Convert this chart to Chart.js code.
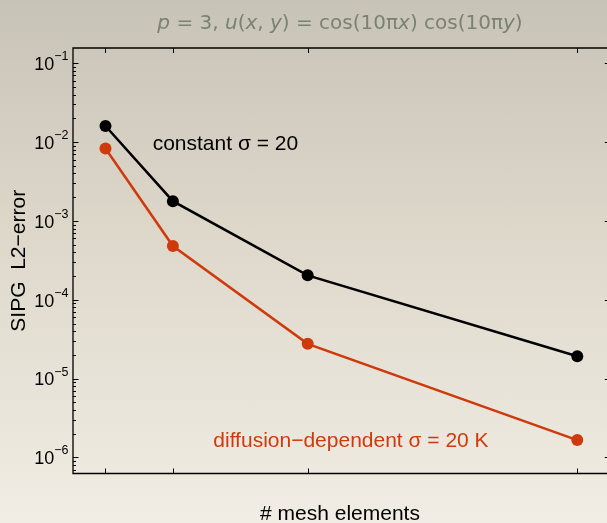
<!DOCTYPE html>
<html>
<head>
<meta charset="utf-8">
<script src="https://cdn.jsdelivr.net/npm/chart.js@4/dist/chart.umd.min.js"></script>
<style>
  html, body { margin: 0; padding: 0; width: 607px; height: 523px; overflow: hidden;
    background: linear-gradient(to bottom, rgb(199,195,182) 0%, rgb(222,216,203) 45%, rgb(241,237,228) 100%); }
  canvas { display: block; }
</style>
</head>
<body>
<canvas id="c" width="607" height="523"></canvas>
<script>
// ---- data ----
const meshLevels = [1, 2, 4, 8];                         // relative # mesh elements (no tick labels shown)
const constantSigmaErr = [1.6e-2, 1.78e-3, 2.04e-4, 1.92e-5];
const diffusionSigmaErr = [8.3e-3, 4.8e-4, 2.76e-5, 1.66e-6];
const yDecadeExponents = [-1, -2, -3, -4, -5, -6];
const seriesLabels = ['constant \u03c3 = 20', 'diffusion\u2212dependent \u03c3 = 20 K'];
const titleParts = [
  ['p', true], [' = 3, ', false], ['u', true], ['(', false], ['x', true], [', ', false],
  ['y', true], [') = cos(10\u03c0', false], ['x', true], [') cos(10\u03c0', false], ['y', true], [')', false]
];
const xAxisTitle = '# mesh elements';
const yAxisTitle = 'SIPG  L2\u2212error';

const BLACK = '#000000';
const RED = '#cf3a0c';
const FONT = '"Liberation Sans", Arial, sans-serif';

const framePlugin = {
  id: 'frame',
  afterDraw(chart) {
    const ctx = chart.ctx;
    const xs = chart.scales.x, ys = chart.scales.y;
    const L = xs.getPixelForValue(xs.min), R = xs.getPixelForValue(8.49);
    const T = ys.getPixelForValue(ys.max), B = ys.getPixelForValue(ys.min);
    ctx.save();
    ctx.strokeStyle = '#000';
    ctx.lineWidth = 1.3;
    ctx.beginPath();
    ctx.moveTo(L, T); ctx.lineTo(R, T); ctx.lineTo(R, B); ctx.lineTo(L, B); ctx.closePath();
    ctx.stroke();
    ctx.lineWidth = 1;
    ctx.beginPath();
    // x ticks (inward, top and bottom)
    meshLevels.forEach(v => {
      const px = Math.round(xs.getPixelForValue(v)) + 0.5;
      ctx.moveTo(px, B); ctx.lineTo(px, B - 5);
      ctx.moveTo(px, T); ctx.lineTo(px, T + 5);
    });
    // y ticks on log scale
    for (let e = -7; e <= 0; e++) {
      for (let m = 1; m <= 9; m++) {
        const v = m * Math.pow(10, e);
        if (v < ys.min || v > ys.max) continue;
        const py = Math.round(ys.getPixelForValue(v)) + 0.5;
        const len = m === 1 ? 5.5 : 3;
        ctx.moveTo(L, py); ctx.lineTo(L + len, py);
        ctx.moveTo(R, py); ctx.lineTo(R - len, py);
      }
    }
    ctx.stroke();

    // y tick labels 10^e
    ctx.fillStyle = '#000';
    ctx.textBaseline = 'alphabetic';
    yDecadeExponents.forEach(e => {
      const py = ys.getPixelForValue(Math.pow(10, e));
      const sup = '\u2212' + Math.abs(e);
      ctx.font = '12.5px ' + FONT;
      const wSup = ctx.measureText(sup).width;
      ctx.font = '18px ' + FONT;
      const wBase = ctx.measureText('10').width;
      const right = L - 4.5;
      ctx.textAlign = 'left';
      ctx.fillText('10', right - wSup - wBase, py + 6.8);
      ctx.font = '12.5px ' + FONT;
      ctx.fillText(sup, right - wSup, py - 3);
    });

    // series annotations
    ctx.font = '21px ' + FONT;
    ctx.textAlign = 'left';
    ctx.textBaseline = 'middle';
    ctx.fillStyle = BLACK;
    ctx.fillText(seriesLabels[0], xs.getPixelForValue(1.70), ys.getPixelForValue(9.35e-3));
    ctx.fillStyle = RED;
    ctx.fillText(seriesLabels[1], xs.getPixelForValue(2.60), ys.getPixelForValue(1.6e-6));

    // axis titles
    ctx.fillStyle = '#000';
    ctx.textBaseline = 'alphabetic';
    ctx.textAlign = 'center';
    ctx.font = '21px ' + FONT;
    ctx.fillText(xAxisTitle, (L + 607) / 2, 520);
    ctx.save();
    ctx.translate(25, (T + B) / 2);
    ctx.rotate(-Math.PI / 2);
    ctx.fillText(yAxisTitle, 0, 0);
    ctx.restore();

    // title
    const tf = (it) => (it ? 'italic ' : '') + '20px "DejaVu Sans", sans-serif';
    let total = 0;
    titleParts.forEach(([s, it]) => { ctx.font = tf(it); total += ctx.measureText(s).width; });
    let x = (L + 607) / 2 - total / 2;
    ctx.fillStyle = '#7b8272';
    ctx.textAlign = 'left';
    titleParts.forEach(([s, it]) => { ctx.font = tf(it); ctx.fillText(s, x, 29); x += ctx.measureText(s).width; });
    ctx.restore();
  }
};

new Chart(document.getElementById('c'), {
  type: 'line',
  data: {
    datasets: [
      {
        label: seriesLabels[0],
        data: meshLevels.map((m, i) => ({ x: m, y: constantSigmaErr[i] })),
        borderColor: BLACK, backgroundColor: BLACK,
        borderWidth: 2.5, pointRadius: 6, pointBorderWidth: 0, pointHoverRadius: 6
      },
      {
        label: seriesLabels[1],
        data: meshLevels.map((m, i) => ({ x: m, y: diffusionSigmaErr[i] })),
        borderColor: RED, backgroundColor: RED,
        borderWidth: 2.5, pointRadius: 6, pointBorderWidth: 0, pointHoverRadius: 6
      }
    ]
  },
  options: {
    responsive: false,
    devicePixelRatio: 1,
    animation: false,
    layout: { autoPadding: false, padding: { left: 73, top: 48, right: 0, bottom: 49.5 } },
    plugins: { legend: { display: false }, title: { display: false }, tooltip: { enabled: false } },
    scales: {
      x: { type: 'linear', display: false, min: 0.518, max: 8.441 },
      y: { type: 'logarithmic', display: false, min: 6.26e-7, max: 0.156 }
    }
  },
  plugins: [framePlugin]
});
</script>
</body>
</html>
